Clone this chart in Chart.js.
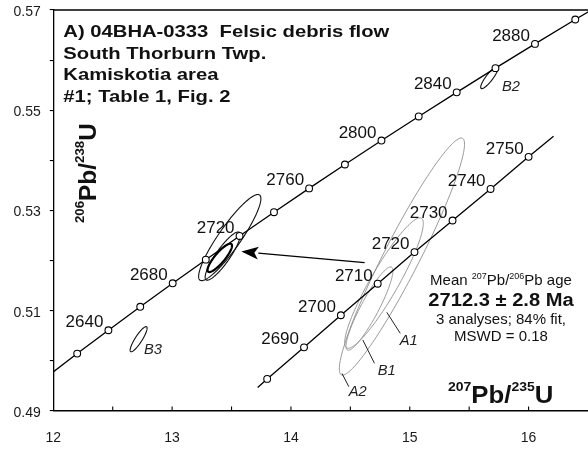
<!DOCTYPE html>
<html>
<head>
<meta charset="utf-8">
<script src="https://cdn.jsdelivr.net/npm/chart.js@4"></script>
<style>
  html, body { margin: 0; padding: 0; background: #fff; overflow: hidden; }
  canvas { display: block; }
</style>
</head>
<body>
<canvas id="c" width="588" height="449"></canvas>
<script>
// ---- Concordia curve, ages in Ma with 207Pb/235U and 206Pb/238U ----
const concAges = [2600, 2620, 2640, 2660, 2680, 2700, 2720, 2740, 2760, 2780, 2800, 2820, 2840, 2860, 2880, 2900, 2920];
const concX = [11.9437, 12.2012, 12.4638, 12.7316, 13.0048, 13.2834, 13.5675, 13.8573, 14.1528, 14.4542, 14.7617, 15.0752, 15.3950, 15.7211, 16.0537, 16.3929, 16.7389];
const concY = [0.49679, 0.50145, 0.50611, 0.51079, 0.51548, 0.52019, 0.52492, 0.52966, 0.53441, 0.53918, 0.54396, 0.54876, 0.55357, 0.55840, 0.56324, 0.56810, 0.57297];
const concLabelled = [2640, 2680, 2720, 2760, 2800, 2840, 2880];

// ---- Enlarged concordia segment around the mean age ----
const enlAges = [2680, 2690, 2700, 2710, 2720, 2730, 2740, 2750];
const enlX = [13.80, 14.11, 14.42, 14.73, 15.04, 15.36, 15.68, 16.00];
const enlY = [0.4964, 0.5027, 0.5091, 0.5154, 0.5217, 0.5280, 0.5343, 0.5407];
const enlLabelled = [2690, 2700, 2710, 2720, 2730, 2740, 2750];
const enlStart = [13.72, 0.4947];
const enlEnd = [16.21, 0.5448];

// ---- Error ellipses: centre, half-extents and correlation ----
const ellName  = ['A2', 'A1', 'B1', 'A2 (enlarged)', 'A1 (enlarged)', 'B1 (enlarged)', 'B2', 'B3'];
const ellCx    = [13.485, 13.426, 13.401, 14.934, 14.783, 14.661, 15.670, 12.718];
const ellCy    = [0.52460, 0.52091, 0.52055, 0.52081, 0.51552, 0.51044, 0.55650, 0.50432];
const ellHx    = [0.262, 0.148, 0.103, 0.527, 0.331, 0.197, 0.0731, 0.0714];
const ellHy    = [0.00859, 0.00481, 0.00283, 0.02365, 0.01302, 0.00832, 0.00219, 0.00251];
const ellRho   = [0.903, 0.878, 0.856, 0.948, 0.914, 0.903, 0.872, 0.877];
const ellKind  = ['plain', 'plain', 'heavy', 'grey', 'grey', 'grey', 'plain', 'plain'];

// ---- Grain tags and leader lines ----
const tagText = ['A1', 'B1', 'A2', 'B2', 'B3'];
const tagX    = [14.916, 14.731, 14.487, 15.776, 12.763];
const tagY    = [0.50316, 0.49718, 0.49299, 0.55387, 0.50137];
const leadFromX = [14.807, 14.605, 14.430];
const leadFromY = [0.50968, 0.50416, 0.49748];
const leadToX   = [14.920, 14.703, 14.487];
const leadToY   = [0.50549, 0.49951, 0.49485];

// ---- Arrow from the enlarged view to the data on the concordia ----
const arrowFrom = [14.62, 0.5196];
const arrowTo   = [13.583, 0.5218];

// ---- Axis tick labels ----
const xTickLabels = ['12', '13', '14', '15', '16'];
const yTickLabels = ['0.49', '0.51', '0.53', '0.55', '0.57'];

const FONT = "'Liberation Sans', Arial, Helvetica, sans-serif";

function richText(ctx, parts, x, y, align, stretch) {
  // parts: [text, size, weight, style, raise]
  let total = 0;
  const widths = parts.map(p => {
    ctx.font = `${p[3] || 'normal'} ${p[2] || 'normal'} ${p[1]}px ${FONT}`;
    const w = ctx.measureText(p[0]).width;
    total += w;
    return w;
  });
  let start = x;
  if (align === 'center') start = x - total * stretch / 2;
  else if (align === 'right') start = x - total * stretch;
  ctx.save();
  ctx.translate(start, y);
  ctx.scale(stretch, 1);
  ctx.textAlign = 'left';
  ctx.textBaseline = 'alphabetic';
  let cx = 0;
  parts.forEach((p, i) => {
    ctx.font = `${p[3] || 'normal'} ${p[2] || 'normal'} ${p[1]}px ${FONT}`;
    ctx.fillText(p[0], cx, -(p[4] || 0));
    cx += widths[i];
  });
  ctx.restore();
}

const decorations = {
  id: 'decorations',
  beforeDatasetsDraw(chart) {
    const { ctx, chartArea: a, scales: { x: xs, y: ys } } = chart;
    ctx.save();
    ctx.beginPath();
    ctx.rect(a.left, a.top, a.right - a.left, a.bottom - a.top);
    ctx.clip();
    for (let e = 0; e < ellCx.length; e++) {
      const r2 = Math.sqrt(1 - ellRho[e] * ellRho[e]);
      ctx.beginPath();
      const n = 180;
      for (let i = 0; i <= n; i++) {
        const t = (i / n) * Math.PI * 2;
        const vx = ellCx[e] + ellHx[e] * Math.cos(t);
        const vy = ellCy[e] + ellHy[e] * (ellRho[e] * Math.cos(t) + r2 * Math.sin(t));
        const px = xs.getPixelForValue(vx), py = ys.getPixelForValue(vy);
        if (i === 0) ctx.moveTo(px, py); else ctx.lineTo(px, py);
      }
      ctx.closePath();
      if (ellKind[e] === 'grey') { ctx.strokeStyle = '#8c8c8c'; ctx.lineWidth = 0.9; }
      else if (ellKind[e] === 'heavy') { ctx.strokeStyle = '#000'; ctx.lineWidth = 2.2; }
      else { ctx.strokeStyle = '#111'; ctx.lineWidth = 1.1; }
      ctx.stroke();
    }
    ctx.restore();
  },
  afterDatasetsDraw(chart) {
    const { ctx, chartArea: a, scales: { x: xs, y: ys } } = chart;
    ctx.save();
    ctx.fillStyle = '#111';
    ctx.strokeStyle = '#111';

    // age labels on the concordia
    concLabelled.forEach(age => {
      const i = concAges.indexOf(age);
      const px = xs.getPixelForValue(concX[i]), py = ys.getPixelForValue(concY[i]);
      richText(ctx, [[String(age), 16.5]], px - 5, py - 3, 'right', 1.03);
    });
    enlLabelled.forEach(age => {
      const i = enlAges.indexOf(age);
      const px = xs.getPixelForValue(enlX[i]), py = ys.getPixelForValue(enlY[i]);
      richText(ctx, [[String(age), 16.5]], px - 5, py - 3, 'right', 1.03);
    });

    // leader lines and grain tags
    ctx.lineWidth = 1;
    ctx.strokeStyle = '#222';
    for (let i = 0; i < leadFromX.length; i++) {
      ctx.beginPath();
      ctx.moveTo(xs.getPixelForValue(leadFromX[i]), ys.getPixelForValue(leadFromY[i]));
      ctx.lineTo(xs.getPixelForValue(leadToX[i]), ys.getPixelForValue(leadToY[i]));
      ctx.stroke();
    }
    ctx.fillStyle = '#222';
    tagText.forEach((t, i) => {
      richText(ctx, [[t, 14, 'normal', 'italic']], xs.getPixelForValue(tagX[i]), ys.getPixelForValue(tagY[i]), 'left', 1.05);
    });

    // arrow
    const x0 = xs.getPixelForValue(arrowFrom[0]), y0 = ys.getPixelForValue(arrowFrom[1]);
    const x1 = xs.getPixelForValue(arrowTo[0]), y1 = ys.getPixelForValue(arrowTo[1]);
    const ang = Math.atan2(y1 - y0, x1 - x0);
    const hl = 17, hw = 6.5;
    const bx = x1 - hl * Math.cos(ang), by = y1 - hl * Math.sin(ang);
    ctx.strokeStyle = '#000';
    ctx.fillStyle = '#000';
    ctx.lineWidth = 1.4;
    ctx.beginPath();
    ctx.moveTo(x0, y0);
    ctx.lineTo(bx, by);
    ctx.stroke();
    ctx.beginPath();
    ctx.moveTo(x1, y1);
    ctx.lineTo(bx + hw * Math.sin(ang), by - hw * Math.cos(ang));
    ctx.lineTo(bx + 4 * Math.cos(ang), by + 4 * Math.sin(ang));
    ctx.lineTo(bx - hw * Math.sin(ang), by + hw * Math.cos(ang));
    ctx.closePath();
    ctx.fill();

    // sample title block
    ctx.fillStyle = '#111';
    const titleLines = ['A) 04BHA-0333  Felsic debris flow', 'South Thorburn Twp.', 'Kamiskotia area', '#1; Table 1, Fig. 2'];
    const titleBase = [37, 58.5, 80, 101.5];
    titleLines.forEach((s, i) => richText(ctx, [[s, 17, 'bold']], a.left + 10, titleBase[i], 'left', 1.19));

    // mean age block
    const mx = 501;
    richText(ctx, [['Mean ', 15], ['207', 9, 'normal', 'normal', 6], ['Pb/', 15], ['206', 9, 'normal', 'normal', 6], ['Pb age', 15]], mx, 285, 'center', 1.0);
    richText(ctx, [['2712.3 \u00b1 2.8 Ma', 17.5, 'bold']], mx, 305.5, 'center', 1.15);
    richText(ctx, [['3 analyses; 84% fit,', 15]], mx, 323.5, 'center', 1.0);
    richText(ctx, [['MSWD = 0.18', 15]], mx, 341, 'center', 1.0);

    // axis titles
    richText(ctx, [['207', 12.5, 'bold', 'normal', 12], ['Pb/', 23, 'bold'], ['235', 12.5, 'bold', 'normal', 12], ['U', 23, 'bold']], 448, 403, 'left', 1.12);
    ctx.save();
    ctx.translate(96, 223);
    ctx.rotate(-Math.PI / 2);
    richText(ctx, [['206', 12.5, 'bold', 'normal', 12], ['Pb/', 23, 'bold'], ['238', 12.5, 'bold', 'normal', 12], ['U', 23, 'bold']], 0, 0, 'left', 1.06);
    ctx.restore();
    ctx.restore();
  },
  afterDraw(chart) {
    const { ctx, chartArea: a, scales: { x: xs } } = chart;
    ctx.save();
    ctx.strokeStyle = '#000';
    // top frame line
    ctx.lineWidth = 1.5;
    ctx.beginPath();
    ctx.moveTo(a.left, a.top);
    ctx.lineTo(a.right, a.top);
    ctx.stroke();
    // inward ticks on the x axis
    ctx.lineWidth = 1.1;
    xs.ticks.forEach(t => {
      const px = xs.getPixelForValue(t.value);
      if (px <= a.left + 1 || px >= a.right - 1) return;
      ctx.beginPath();
      ctx.moveTo(px, a.bottom);
      ctx.lineTo(px, a.bottom - 4.5);
      ctx.stroke();
    });
    ctx.restore();
  }
};

const concData = concAges.map((a, i) => ({ x: concX[i], y: concY[i] }));
const concRadius = concAges.map((a, i) => (i === 0 || i === concAges.length - 1) ? 0 : 3.4);
const enlData = [{ x: enlStart[0], y: enlStart[1] }]
  .concat(enlAges.map((a, i) => ({ x: enlX[i], y: enlY[i] })))
  .concat([{ x: enlEnd[0], y: enlEnd[1] }]);
const enlRadius = enlData.map((p, i) => (i === 0 || i === enlData.length - 1) ? 0 : 3.4);

new Chart(document.getElementById('c'), {
  type: 'scatter',
  data: {
    datasets: [
      {
        label: 'Concordia',
        data: concData,
        showLine: true,
        borderColor: '#000',
        borderWidth: 1.3,
        pointRadius: concRadius,
        pointBackgroundColor: '#fff',
        pointBorderColor: '#000',
        pointBorderWidth: 1.1,
        tension: 0
      },
      {
        label: 'Concordia (enlarged)',
        data: enlData,
        showLine: true,
        borderColor: '#000',
        borderWidth: 1.3,
        pointRadius: enlRadius,
        pointBackgroundColor: '#fff',
        pointBorderColor: '#000',
        pointBorderWidth: 1.1,
        tension: 0
      }
    ]
  },
  options: {
    responsive: false,
    devicePixelRatio: 1,
    animation: false,
    layout: { padding: { top: 10, right: 0, left: 0, bottom: 0 } },
    plugins: { legend: { display: false }, tooltip: { enabled: false } },
    scales: {
      x: {
        type: 'linear',
        min: 12,
        max: 16.5,
        afterFit: s => { s.height = 38; s.paddingLeft = 0; s.paddingRight = 0; },
        border: { display: true, color: '#000', width: 1.5 },
        grid: { display: true, drawOnChartArea: false, drawTicks: false, color: 'rgba(0,0,0,0)' },
        ticks: {
          stepSize: 0.5,
          autoSkip: false,
          maxRotation: 0,
          padding: 18.5,
          color: '#1a1a1a',
          font: { family: FONT, size: 14 },
          callback: v => { const s = String(v); return xTickLabels.includes(s) ? s : ''; }
        }
      },
      y: {
        type: 'linear',
        min: 0.49,
        max: 0.57,
        afterFit: s => { s.width = 53.3; s.paddingTop = 0; s.paddingBottom = 0; },
        border: { display: true, color: '#000', width: 1.3 },
        grid: { display: true, drawOnChartArea: false, drawTicks: true, tickLength: 3.5, color: '#000', lineWidth: 1.1 },
        ticks: {
          stepSize: 0.01,
          autoSkip: false,
          padding: 9,
          labelOffset: 2,
          color: '#1a1a1a',
          font: { family: FONT, size: 14 },
          callback: v => { const s = Number(v).toFixed(2); return yTickLabels.includes(s) ? s : ''; }
        }
      }
    }
  },
  plugins: [decorations]
});
</script>
</body>
</html>
